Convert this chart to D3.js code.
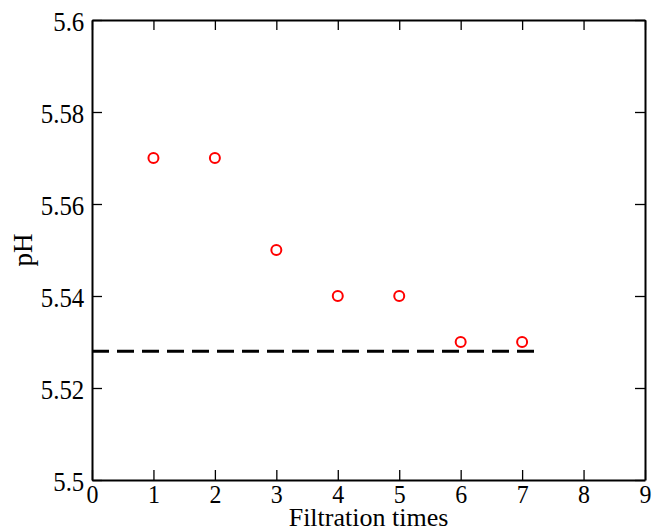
<!DOCTYPE html>
<html>
<head>
<meta charset="utf-8">
<script src="https://cdn.jsdelivr.net/npm/d3@7"></script>
<style>
  body { margin: 0; background: #fff; }
  text { font-family: "Liberation Serif", "Times New Roman", serif; fill: #000; }
</style>
</head>
<body>
<div id="chart"></div>
<script>
// filtration runs and measured pH
var runs = [1, 2, 3, 4, 5, 6, 7];
var phValues = [5.57, 5.57, 5.55, 5.54, 5.54, 5.53, 5.53];
// reference level (dashed line)
var refLevel = 5.528;
var refRange = [0, 7.2];
var xTicks = [0, 1, 2, 3, 4, 5, 6, 7, 8, 9];
var yTicks = [5.5, 5.52, 5.54, 5.56, 5.58, 5.6];

var width = 654, height = 531;
var margin = {top: 20, right: 9, bottom: 51, left: 92};
var fontSize = 27;
var squeeze = 0.92; // tick labels are a bit narrow

var svg = d3.select('#chart').append('svg')
    .attr('width', width)
    .attr('height', height);

var x = d3.scaleLinear().domain([0, 9]).range([margin.left, width - margin.right]);
var y = d3.scaleLinear().domain([5.5, 5.6]).range([height - margin.bottom, margin.top]);

var fmt = function(d){ return String(+d.toFixed(2)); };

// axes with inward ticks on all four sides
var axBottom = svg.append('g')
    .attr('transform', 'translate(0,' + y.range()[0] + ')')
    .call(d3.axisBottom(x).tickValues(xTicks).tickSizeInner(-10).tickSizeOuter(0));
var axTop = svg.append('g')
    .attr('transform', 'translate(0,' + y.range()[1] + ')')
    .call(d3.axisTop(x).tickValues(xTicks).tickSizeInner(-10).tickSizeOuter(0).tickFormat(''));
var axLeft = svg.append('g')
    .attr('transform', 'translate(' + x.range()[0] + ',0)')
    .call(d3.axisLeft(y).tickValues(yTicks).tickSizeInner(-10).tickSizeOuter(0).tickFormat(fmt));
var axRight = svg.append('g')
    .attr('transform', 'translate(' + x.range()[1] + ',0)')
    .call(d3.axisRight(y).tickValues(yTicks).tickSizeInner(-10).tickSizeOuter(0).tickFormat(''));

[axBottom, axTop, axLeft, axRight].forEach(function(g){
    g.attr('font-family', null).attr('font-size', null);
    g.select('.domain').attr('stroke', '#000').attr('stroke-width', 2);
    g.selectAll('.tick line').attr('stroke', '#000').attr('stroke-width', 1.3);
    g.selectAll('text').attr('font-size', fontSize).attr('fill', '#000');
});
axLeft.selectAll('.tick text')
    .attr('x', -8.4).attr('y', 10).attr('dy', null)
    .attr('transform', 'scale(' + squeeze + ',1)');
axBottom.selectAll('.tick text')
    .attr('y', 23).attr('dy', null)
    .attr('font-size', 26)
    .attr('transform', 'scale(' + squeeze + ',1)');

// dashed reference line
svg.append('line')
    .attr('x1', x(refRange[0])).attr('x2', x(refRange[1]))
    .attr('y1', y(refLevel)).attr('y2', y(refLevel))
    .attr('stroke', '#000')
    .attr('stroke-width', 3)
    .attr('stroke-dasharray', '17,8');

// data points
svg.selectAll('circle.pt')
    .data(runs)
    .enter()
    .append('circle')
    .attr('class', 'pt')
    .attr('cx', function(d){ return x(d); })
    .attr('cy', function(d, i){ return y(phValues[i]); })
    .attr('r', 5)
    .attr('fill', 'none')
    .attr('stroke', '#ff0000')
    .attr('stroke-width', 2);

// axis titles
svg.append('text')
    .attr('x', (x.range()[0] + x.range()[1]) / 2)
    .attr('y', 526)
    .attr('text-anchor', 'middle')
    .attr('font-size', 26)
    .text('Filtration times');

svg.append('text')
    .attr('transform', 'translate(32,' + ((y.range()[0] + y.range()[1]) / 2) + ') rotate(-90)')
    .attr('text-anchor', 'middle')
    .attr('font-size', fontSize)
    .text('pH');
</script>
</body>
</html>
